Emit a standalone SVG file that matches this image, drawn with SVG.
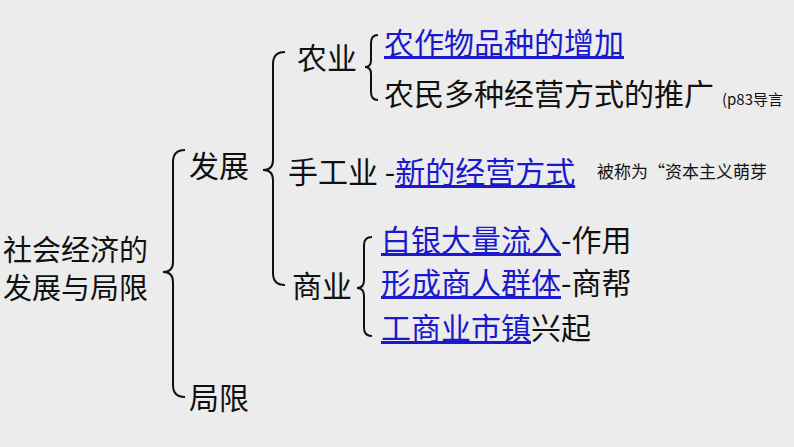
<svg xmlns="http://www.w3.org/2000/svg" width="794" height="447" viewBox="0 0 794 447">
<style>
text{font-family:"Noto Sans CJK SC","Liberation Sans",sans-serif;font-size:30px;fill:#111}
.b{fill:#1a1acc;text-decoration:underline}
.br{fill:none;stroke:#111;stroke-width:2}
</style>
<rect width="794" height="447" fill="#ececec"/>
<g id="root"><text x="3" y="261" style="font-size:29px">社会经济的</text><text x="3" y="299" style="font-size:29px">发展与局限</text></g>
<g id="fazhan"><text x="189" y="177">发展</text></g>
<g id="juxian"><text x="189" y="409">局限</text></g>
<g id="nongye"><text x="297" y="69">农业</text></g>
<g id="n1"><text x="384" y="54" class="b">农作物品种的增加</text></g>
<g id="n2"><text x="384" y="105">农民多种经营方式的推广</text><text x="722" y="105" style="font-size:15px">(p83导言</text></g>
<g id="shougongye"><text x="288" y="183">手工业 -<tspan class="b">新的经营方式</tspan></text><text x="597" y="178" style="font-size:17px">被称为“资本主义萌芽</text></g>
<g id="shangye"><text x="292" y="297">商业</text></g>
<g id="s1"><text x="381" y="251"><tspan class="b">白银大量流入</tspan>-作用</text></g>
<g id="s2"><text x="381" y="294"><tspan class="b">形成商人群体</tspan>-商帮</text></g>
<g id="s3"><text x="381" y="339"><tspan class="b">工商业市镇</tspan>兴起</text></g>
<g id="connectors">
<path class="br" d="M185,150 Q173,150 173,162 L173,262 Q173,272 163,272 Q173,272 173,282 L173,385 Q173,397 185,397"/>
<path class="br" d="M285,52 Q273,52 273,64 L273,160 Q273,170 263,170 Q273,170 273,180 L273,273 Q273,285 285,285"/>
<path class="br" d="M378,35 Q371,35 371,43 L371,60 Q371,67 365,67 Q371,67 371,74 L371,92 Q371,100 378,100"/>
<path class="br" d="M372,237 Q364,237 364,245 L364,280 Q364,288 357,288 Q364,288 364,296 L364,328 Q364,336 372,336"/>
</g>
</svg>
